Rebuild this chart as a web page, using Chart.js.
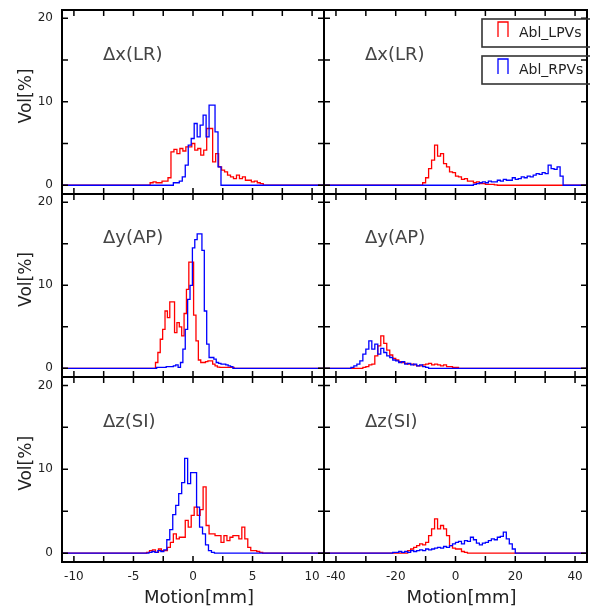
<!DOCTYPE html>
<html>
<head>
<meta charset="utf-8">
<script src="https://cdn.jsdelivr.net/npm/chart.js@4.4.1/dist/chart.umd.min.js"></script>
<style>
  body { margin: 0; background: #fff; }
  #wrap { position: relative; width: 590px; height: 608px; overflow: hidden; background: #fff; }
  #wrap canvas { position: absolute; }
</style>
</head>
<body>
<div id="wrap"></div>
<script>
// labels
const rowLabels = ['Δx(LR)', 'Δy(AP)', 'Δz(SI)'];
const seriesNames = ['Abl_LPVs', 'Abl_RPVs'];
const seriesColors = ['#ff0000', '#0000ff'];

// axis ticks
const leftXTicks = [-10, -7.5, -5, -2.5, 0, 2.5, 5, 7.5, 10];
const leftXLabels = [-10, -5, 0, 5, 10];
const rightXTicks = [-40, -30, -20, -10, 0, 10, 20, 30, 40];
const rightXLabels = [-40, -20, 0, 20, 40];
const yTicks = [0, 5, 10, 15, 20];
const yLabels = [0, 10, 20];

// histogram contents Vol[%], left column (narrow motion range)
const dxL_lpv = [0.3, 0.4, 0.3, 0.3, 0.5, 0.5, 0.9, 4.0, 4.3, 3.8, 4.4, 4.1, 4.6, 4.6, 5.0, 4.2, 4.4, 3.6, 4.2, 6.8, 6.8, 2.8, 3.8, 2.2, 1.8, 1.6, 1.2, 1.0, 0.8, 1.2, 0.8, 1.0, 0.6, 0.6, 0.4, 0.5, 0.3, 0.2];
const dxL_rpv = [0.3, 0.3, 0.5, 1.0, 2.4, 4.8, 5.6, 7.4, 5.8, 7.2, 8.4, 5.8, 9.6, 9.6, 6.4, 2.2];
const dyL_lpv = [0.7, 1.9, 3.5, 4.7, 6.9, 6.1, 8.0, 8.0, 4.3, 5.5, 5.0, 3.9, 6.6, 9.5, 12.8, 12.8, 6.4, 3.3, 1.0, 0.7, 0.7, 0.8, 0.9, 0.9, 0.5, 0.3, 0.15, 0.1, 0.1, 0.1, 0.1, 0.1, 0.1];
const dyL_rpv = [0.1, 0.1, 0.1, 0.1, 0.2, 0.2, 0.2, 0.3, 0.4, 0.1, 0.7, 2.3, 4.7, 8.3, 10.0, 14.5, 15.5, 16.2, 16.2, 14.2, 6.9, 2.9, 1.3, 1.3, 1.1, 0.7, 0.6, 0.5, 0.5, 0.4, 0.3, 0.2];
const dzL_lpv = [0.1, 0.3, 0.4, 0.1, 0.5, 0.3, 0.3, 0.7, 1.3, 2.3, 1.7, 1.9, 1.9, 3.9, 3.1, 4.5, 5.5, 4.5, 5.2, 7.9, 3.3, 2.3, 2.3, 2.1, 2.1, 1.3, 2.1, 1.5, 1.9, 2.1, 2.1, 1.7, 3.1, 1.7, 0.7, 0.3, 0.3, 0.2, 0.1];
const dzL_rpv = [0.1, 0.2, 0.1, 0.3, 0.2, 0.4, 1.6, 2.8, 4.6, 5.7, 7.1, 8.4, 11.3, 8.3, 9.6, 9.6, 5.5, 3.1, 2.3, 1.0, 0.3, 0.1];

// histogram contents Vol[%], right column (wide motion range)
const dxR_lpv = [0.3, 0.9, 2.0, 3.0, 4.8, 3.5, 3.8, 2.6, 2.2, 1.6, 1.5, 1.1, 1.0, 0.7, 0.8, 0.5, 0.5, 0.3, 0.4, 0.2, 0.2, 0.1, 0.1, 0.1, 0.05];
const dxR_rpv = [0.1, 0.2, 0.3, 0.4, 0.3, 0.5, 0.4, 0.4, 0.6, 0.5, 0.7, 0.6, 0.6, 0.9, 0.7, 0.8, 1.0, 0.9, 1.1, 1.0, 1.2, 1.4, 1.3, 1.5, 1.4, 2.4, 2.0, 1.9, 2.2, 1.1];
const dyR_lpv = [0.1, 0.2, 0.4, 0.5, 1.5, 2.7, 3.9, 3.0, 2.2, 1.6, 1.2, 1.0, 0.8, 0.7, 0.6, 0.5, 0.5, 0.4, 0.3, 0.3, 0.4, 0.5, 0.6, 0.4, 0.5, 0.4, 0.3, 0.4, 0.2, 0.2, 0.1, 0.1];
const dyR_rpv = [0.1, 0.3, 0.5, 0.9, 1.7, 2.3, 3.3, 2.3, 2.9, 1.7, 2.4, 1.9, 1.5, 1.3, 1.0, 0.9, 0.7, 0.8, 0.5, 0.6, 0.4, 0.5, 0.3, 0.4, 0.2, 0.1];
const dzR_lpv = [0.3, 0.5, 0.7, 0.9, 1.1, 1.0, 1.3, 2.1, 2.9, 4.1, 2.9, 3.3, 2.9, 2.1, 0.9, 0.6, 0.5, 0.5, 0.2, 0.1];
const dzR_rpv = [0.1, 0.1, 0.2, 0.1, 0.2, 0.1, 0.3, 0.2, 0.3, 0.4, 0.3, 0.5, 0.4, 0.5, 0.6, 0.7, 0.6, 0.8, 0.7, 0.9, 1.1, 1.3, 1.4, 1.1, 1.5, 1.4, 1.9, 1.6, 1.2, 1.0, 1.2, 1.3, 1.5, 1.7, 1.6, 1.9, 2.0, 2.5, 1.7, 1.1, 0.5];

// first bin edge [LPV, RPV] per row, and bin width (mm)
const leftStarts = [[-3.6, -1.65], [-3.15, -3.05], [-3.9, -3.7]];
const leftBins = [0.25, 0.2, 0.25];
const rightStarts = [[-11, 6], [-31, -35], [-16, -21]];
const rightBin = 1;

const leftSeries = [[dxL_lpv, dxL_rpv], [dyL_lpv, dyL_rpv], [dzL_lpv, dzL_rpv]];
const rightSeries = [[dxR_lpv, dxR_rpv], [dyR_lpv, dyR_rpv], [dzR_lpv, dzR_rpv]];

// step histogram -> points for a stepped line
function histPoints(values, start, bin, xMin, xMax) {
  const pts = [{x: xMin, y: 0}];
  values.forEach((v, i) => pts.push({x: start + i * bin, y: v}));
  pts.push({x: start + values.length * bin, y: 0});
  pts.push({x: xMax, y: 0});
  return pts;
}

const FONT = '"DejaVu Sans", sans-serif';

// frame, inward ticks, labels, legend
const panelFrame = {
  id: 'panelFrame',
  afterDraw(chart, args, o) {
    const ctx = chart.ctx, a = chart.chartArea;
    const xs = chart.scales.x, ys = chart.scales.y;
    ctx.save();
    ctx.strokeStyle = '#000';
    ctx.lineWidth = 1.5;
    ctx.beginPath();
    o.xTicks.forEach(v => {
      const p = xs.getPixelForValue(v);
      ctx.moveTo(p, a.bottom); ctx.lineTo(p, a.bottom - 6);
      ctx.moveTo(p, a.top); ctx.lineTo(p, a.top + 6);
    });
    yTicks.forEach(v => {
      const p = ys.getPixelForValue(v);
      ctx.moveTo(a.left, p); ctx.lineTo(a.left + 6, p);
      ctx.moveTo(a.right, p); ctx.lineTo(a.right - 6, p);
    });
    ctx.stroke();
    ctx.lineWidth = 2;
    ctx.strokeRect(a.left, a.top, a.width, a.height);

    // panel label
    ctx.fillStyle = '#444';
    ctx.font = '18px ' + FONT;
    ctx.textAlign = 'left';
    ctx.textBaseline = 'middle';
    ctx.fillText(o.label, a.left + 41, ys.getPixelForValue(15.6));

    ctx.fillStyle = '#222';
    if (o.showY) {
      ctx.font = '12px ' + FONT;
      ctx.textAlign = 'right';
      yLabels.forEach(v => ctx.fillText(String(v), a.left - 9, ys.getPixelForValue(v)));
      ctx.save();
      ctx.translate(27, ys.getPixelForValue(10.7));
      ctx.rotate(-Math.PI / 2);
      ctx.textAlign = 'center';
      ctx.font = '17px ' + FONT;
      ctx.fillText('Vol[%]', 0, 0);
      ctx.restore();
    }
    if (o.showX) {
      ctx.font = '12px ' + FONT;
      ctx.textAlign = 'center';
      ctx.textBaseline = 'top';
      o.xLabels.forEach(v => ctx.fillText(String(v), xs.getPixelForValue(v), a.bottom + 9));
      ctx.font = '18px ' + FONT;
      ctx.fillText('Motion[mm]', xs.getPixelForValue(0) + 6, a.bottom + 27);
    }
    if (o.legend) {
      seriesNames.forEach((name, i) => {
        const bx = a.left + 158, by = a.top + 9 + i * 37, bw = 130, bh = 28;
        ctx.strokeStyle = '#333';
        ctx.lineWidth = 1.6;
        ctx.strokeRect(bx, by, bw, bh);
        ctx.strokeStyle = seriesColors[i];
        ctx.lineWidth = 1.3;
        ctx.beginPath();
        ctx.moveTo(bx + 16, by + 18); ctx.lineTo(bx + 16, by + 3);
        ctx.lineTo(bx + 26, by + 3); ctx.lineTo(bx + 26, by + 18);
        ctx.stroke();
        ctx.fillStyle = '#222';
        ctx.font = '14px ' + FONT;
        ctx.textAlign = 'left';
        ctx.textBaseline = 'middle';
        ctx.fillText(name, bx + 37, by + bh / 2);
      });
    }
    ctx.restore();
  }
};

// canvas placement on the page
const colBox = [
  {left: 0, width: 330, padL: 62, padR: 6, xMax: 11},
  {left: 318, width: 272, padL: 6, padR: 3, xMax: 44}
];
const rowBox = [
  {top: 0, height: 200, padT: 10, padB: 6},
  {top: 188, height: 195, padT: 6, padB: 6},
  {top: 371, height: 237, padT: 6, padB: 46}
];

const wrap = document.getElementById('wrap');
for (let r = 0; r < 3; r++) {
  for (let c = 0; c < 2; c++) {
    const cb = colBox[c], rb = rowBox[r];
    const cv = document.createElement('canvas');
    cv.width = cb.width; cv.height = rb.height;
    cv.style.left = cb.left + 'px'; cv.style.top = rb.top + 'px';
    wrap.appendChild(cv);

    const series = c === 0 ? leftSeries[r] : rightSeries[r];
    const starts = c === 0 ? leftStarts[r] : rightStarts[r];
    const bin = c === 0 ? leftBins[r] : rightBin;
    const datasets = series.map((vals, i) => ({
      label: seriesNames[i],
      data: histPoints(vals, starts[i], bin, -cb.xMax, cb.xMax),
      borderColor: seriesColors[i],
      borderWidth: 1.3,
      stepped: true,
      fill: false,
      pointRadius: 0,
      order: 1 - i
    }));

    new Chart(cv.getContext('2d'), {
      type: 'line',
      data: {datasets: datasets},
      options: {
        responsive: false,
        animation: false,
        devicePixelRatio: 1,
        layout: {padding: {left: cb.padL, right: cb.padR, top: rb.padT, bottom: rb.padB}},
        plugins: {
          legend: {display: false},
          tooltip: {enabled: false},
          panelFrame: {
            label: rowLabels[r],
            xTicks: c === 0 ? leftXTicks : rightXTicks,
            xLabels: c === 0 ? leftXLabels : rightXLabels,
            showY: c === 0,
            showX: r === 2,
            legend: r === 0 && c === 1
          }
        },
        scales: {
          x: {type: 'linear', min: -cb.xMax, max: cb.xMax, display: false},
          y: {type: 'linear', min: -1.05, max: 21, display: false}
        }
      },
      plugins: [panelFrame]
    });
  }
}
</script>
</body>
</html>
